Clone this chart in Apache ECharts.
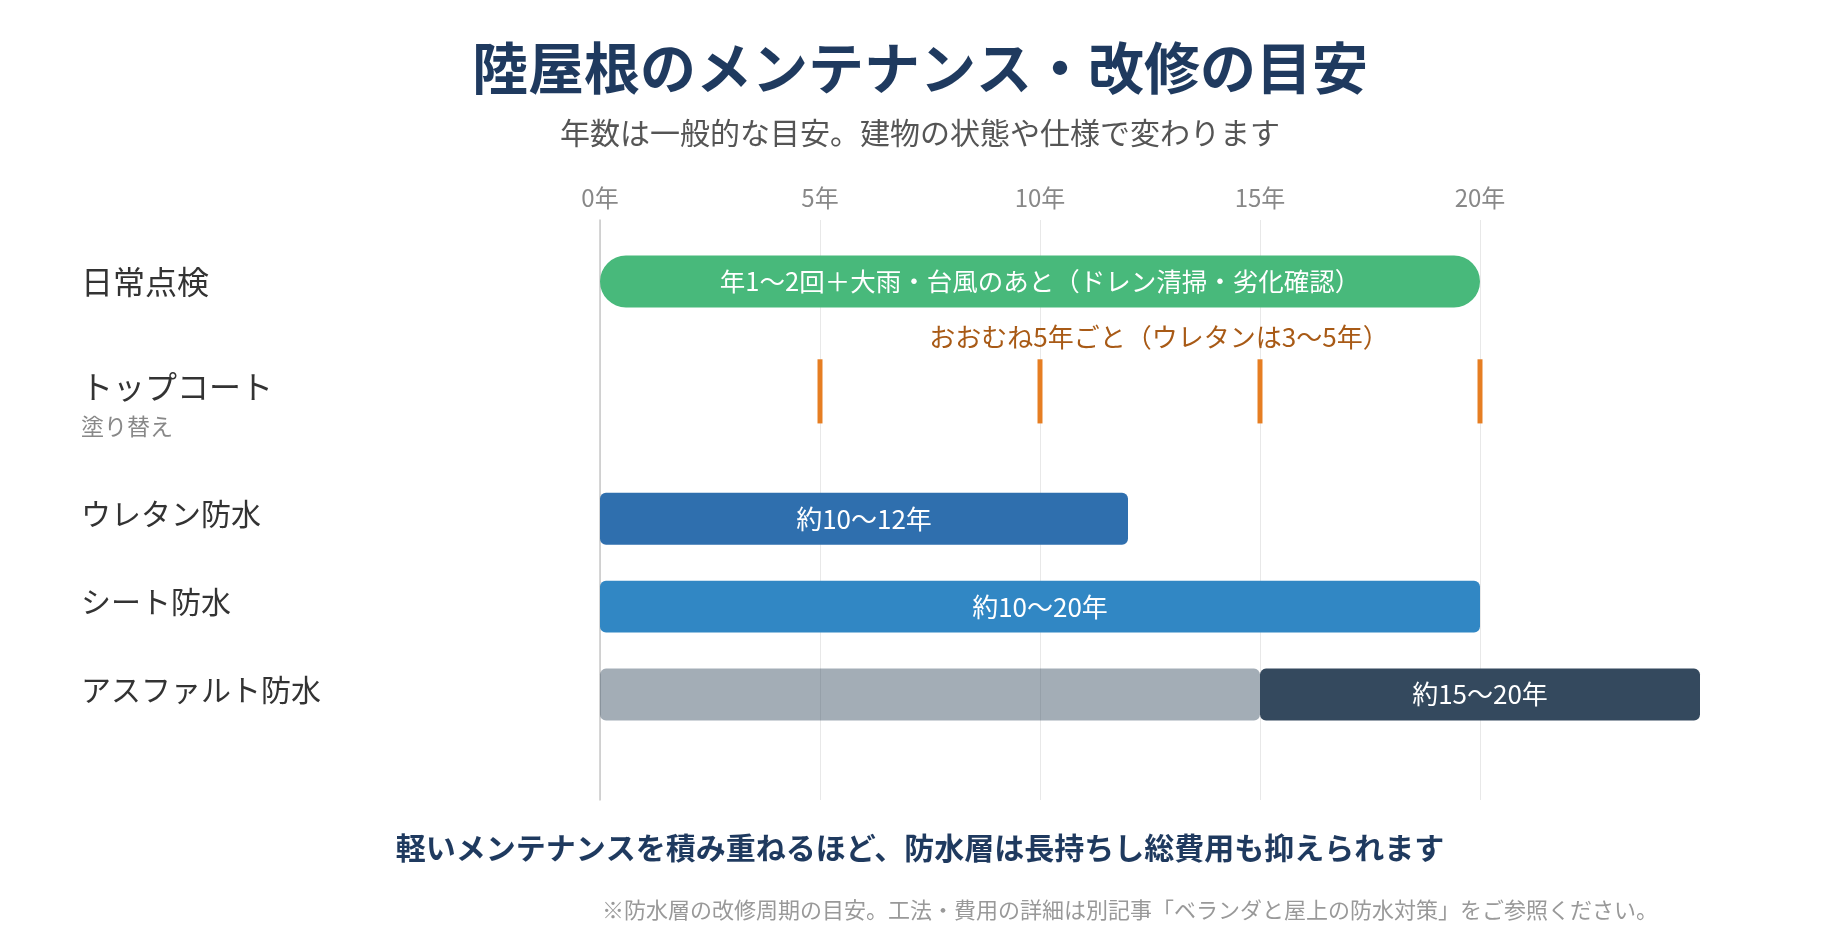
<!DOCTYPE html>
<html lang="ja">
<head>
<meta charset="utf-8">
<title>陸屋根のメンテナンス・改修の目安</title>
<script src="https://cdn.jsdelivr.net/npm/echarts@6/dist/echarts.min.js"></script>
<style>
  html, body { margin: 0; padding: 0; background: #fff; }
  #chart { width: 1840px; height: 940px; }
</style>
</head>
<body>
<div id="chart"></div>
<script>
// 行（上から）
var rowNames = ["日常点検", "トップコート", "ウレタン防水", "シート防水", "アスファルト防水"];
var rowSubNames = ["", "塗り替え", "", "", ""];

// 帯のデータ（行番号・開始年・終了年・ラベル）
var barRow = [0, 2, 3, 4, 4];
var barStart = [0, 0, 0, 0, 15];
var barEnd = [20, 12, 20, 15, 25];
var barLabels = ["年1〜2回＋大雨・台風のあと（ドレン清掃・劣化確認）", "約10〜12年", "約10〜20年", "", "約15〜20年"];

// トップコートの塗り替え時期（年）
var topcoatYears = [5, 10, 15, 20];
var topcoatNote = "おおむね5年ごと（ウレタンは3〜5年）";

// 軸
var xTicks = [0, 5, 10, 15, 20];

// ---- レイアウト・見た目 ----
var FONT = '"Noto Sans CJK JP", "Noto Sans", sans-serif';
var rowY = [0.7, 1.95, 3.4, 4.4, 5.4]; // 縦軸上の行の位置
var rowFontSize = [32, 32, 30, 30, 30];
var rowLabelShift = [0, -5, -5, -5, -5];
var BAR_H = 0.59;
var TICK_H = 0.73;
var LABEL_X = 81;
var barColors = ["#48b97b", "#2f6fae", "#3187c4", "rgba(52,73,94,0.45)", "#34495e"];
var barRadius = [26, 6, 6, 6, 6];
var barFontSize = [25.5, 26, 26, 26, 26];

var myChart = echarts.init(document.getElementById("chart"));

var barData = barRow.map(function (r, i) {
  return [rowY[r], barStart[i], barEnd[i], i];
});
var tickData = topcoatYears.map(function (y) {
  return [rowY[1], y];
});
var labelData = rowNames.map(function (n, i) {
  return [rowY[i], i];
});

function renderBar(params, api) {
  var i = api.value(3);
  var y = api.value(0);
  var p0 = api.coord([api.value(1), y]);
  var p1 = api.coord([api.value(2), y]);
  var h = api.size([0, BAR_H])[1];
  var children = [{
    type: "rect",
    shape: { x: p0[0], y: p0[1] - h / 2, width: p1[0] - p0[0], height: h, r: barRadius[i] },
    style: { fill: barColors[i] }
  }];
  if (barLabels[i]) {
    children.push({
      type: "text",
      style: {
        text: barLabels[i],
        x: (p0[0] + p1[0]) / 2,
        y: p0[1],
        fill: "#fff",
        font: barFontSize[i] + 'px ' + FONT,
        align: "center",
        verticalAlign: "middle"
      }
    });
  }
  return { type: "group", children: children };
}

function renderTick(params, api) {
  var y = api.value(0);
  var p = api.coord([api.value(1), y]);
  var h = api.size([0, TICK_H])[1];
  var el = {
    type: "group",
    children: [{
      type: "rect",
      shape: { x: p[0] - 2.5, y: p[1] - h / 2, width: 5, height: h },
      style: { fill: "#e67e22" }
    }]
  };
  if (params.dataIndex === 0) {
    // 注記は目盛りの範囲の中央あたり
    var a = api.coord([topcoatYears[0], y]);
    var b = api.coord([topcoatYears[topcoatYears.length - 1], y]);
    el.children.push({
      type: "text",
      style: {
        text: topcoatNote,
        x: (a[0] + b[0]) / 2 + 9,
        y: p[1] - h / 2 - 22,
        fill: "#a85a16",
        font: '26px ' + FONT,
        align: "center",
        verticalAlign: "middle"
      }
    });
  }
  return el;
}

function renderRowLabel(params, api) {
  var i = api.value(1);
  var p = api.coord([0, api.value(0)]);
  var children = [{
    type: "text",
    style: {
      text: rowNames[i],
      x: LABEL_X,
      y: p[1] + rowLabelShift[i],
      fill: "#333",
      font: rowFontSize[i] + 'px ' + FONT,
      align: "left",
      verticalAlign: "middle"
    }
  }];
  if (rowSubNames[i]) {
    children.push({
      type: "text",
      style: {
        text: rowSubNames[i],
        x: LABEL_X,
        y: p[1] + 35,
        fill: "#888",
        font: '23px ' + FONT,
        align: "left",
        verticalAlign: "middle"
      }
    });
  }
  return { type: "group", children: children };
}

myChart.setOption({
  backgroundColor: "#fff",
  animation: false,
  title: [
    {
      text: "陸屋根のメンテナンス・改修の目安",
      left: "center",
      top: 35,
      textStyle: { fontSize: 56, fontWeight: "bold", color: "#1f3a5f", fontFamily: FONT }
    },
    {
      text: "年数は一般的な目安。建物の状態や仕様で変わります",
      left: "center",
      top: 113,
      textStyle: { fontSize: 30, fontWeight: "normal", color: "#555", fontFamily: FONT }
    },
    {
      text: "軽いメンテナンスを積み重ねるほど、防水層は長持ちし総費用も抑えられます",
      left: "center",
      top: 828,
      textStyle: { fontSize: 30, fontWeight: "bold", color: "#1f3a5f", fontFamily: FONT }
    },
    {
      text: "※防水層の改修周期の目安。工法・費用の詳細は別記事「ベランダと屋上の防水対策」をご参照ください。",
      left: 597,
      top: 894,
      textStyle: { fontSize: 22, fontWeight: "normal", color: "#999", fontFamily: FONT }
    }
  ],
  grid: { left: 600, right: 360, top: 220, bottom: 140 },
  xAxis: {
    type: "value",
    position: "top",
    min: xTicks[0],
    max: xTicks[xTicks.length - 1],
    interval: 5,
    axisLine: { show: false },
    axisTick: { show: false },
    axisLabel: {
      formatter: "{value}年",
      color: "#888",
      fontSize: 24,
      fontFamily: FONT,
      margin: 10
    },
    splitLine: { lineStyle: { color: "#e8e8e8", width: 1 } }
  },
  yAxis: {
    type: "value",
    inverse: true,
    min: 0,
    max: 6.6,
    axisLine: { show: true, lineStyle: { color: "#c8c8c8", width: 1.5 } },
    axisTick: { show: false },
    axisLabel: { show: false },
    splitLine: { show: false }
  },
  series: [
    {
      type: "custom",
      name: "rows",
      renderItem: renderRowLabel,
      data: labelData,
      encode: { x: -1, y: 0 },
      silent: true
    },
    {
      type: "custom",
      name: "bars",
      renderItem: renderBar,
      data: barData,
      encode: { x: [1, 2], y: 0 },
      clip: false
    },
    {
      type: "custom",
      name: "topcoat",
      renderItem: renderTick,
      data: tickData,
      encode: { x: 1, y: 0 }
    }
  ]
});
</script>
</body>
</html>
